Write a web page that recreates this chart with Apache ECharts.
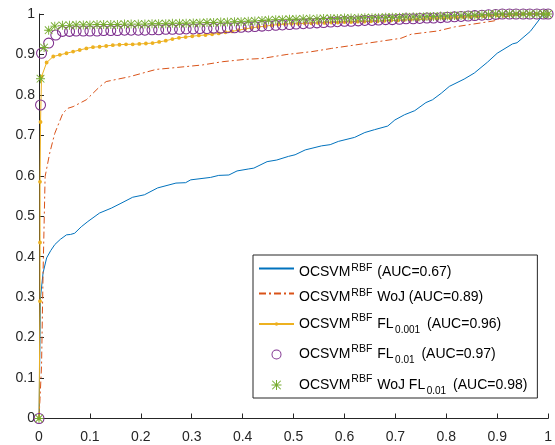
<!DOCTYPE html>
<html><head><meta charset="utf-8">
<script src="https://cdn.jsdelivr.net/npm/echarts@6/dist/echarts.min.js"></script>
<style>html,body{margin:0;padding:0;background:#fff}#c{width:555px;height:445px}</style>
</head><body><div id="c"></div>
<script>
// ---- data ----
const xTicks = [0, 0.1, 0.2, 0.3, 0.4, 0.5, 0.6, 0.7, 0.8, 0.9, 1];
const yTicks = [0, 0.1, 0.2, 0.3, 0.4, 0.5, 0.6, 0.7, 0.8, 0.9, 1];
const seriesNames = ['s1', 's2', 's3', 's4', 's5'];
const legendLabels = [
  '{a|OCSVM}{sa|RBF}{a| (AUC=0.67)}',
  '{a|OCSVM}{sa|RBF}{a| WoJ (AUC=0.89)}',
  '{b|OCSVM}{sb|RBF}{b| FL}{sub|0.001}{b| (AUC=0.96)}',
  '{b|OCSVM}{sb|RBF}{b| FL}{sub|0.01}{b| (AUC=0.97)}',
  '{b|OCSVM}{sb|RBF}{b| WoJ FL}{sub|0.01}{b| (AUC=0.98)}'
];
const blueX = [0,0.001,0.002,0.003,0.008,0.015,0.023,0.031,0.042,0.054,0.062,0.070,0.083,0.096,0.119,0.142,0.161,0.184,0.207,0.233,0.269,0.288,0.298,0.337,0.353,0.373,0.389,0.412,0.422,0.448,0.467,0.490,0.503,0.523,0.555,0.572,0.588,0.620,0.640,0.659,0.685,0.699,0.718,0.738,0.760,0.773,0.790,0.806,0.835,0.855,0.881,0.900,0.930,0.939,0.965,0.988,1];
const blueY = [0,0.1,0.2,0.3,0.36,0.397,0.415,0.43,0.443,0.454,0.455,0.458,0.474,0.487,0.508,0.52,0.532,0.547,0.553,0.57,0.582,0.583,0.59,0.596,0.601,0.602,0.612,0.617,0.619,0.635,0.639,0.648,0.652,0.664,0.674,0.677,0.685,0.695,0.707,0.714,0.723,0.738,0.751,0.761,0.781,0.788,0.804,0.821,0.839,0.854,0.881,0.903,0.926,0.929,0.957,0.995,1];
const orangeX = [0,0.002,0.005,0.008,0.012,0.021,0.031,0.047,0.057,0.067,0.093,0.119,0.132,0.178,0.230,0.256,0.321,0.360,0.406,0.438,0.487,0.536,0.575,0.646,0.711,0.731,0.783,0.816,0.894,0.913,0.956,1];
const orangeY = [0,0.05,0.13,0.36,0.598,0.656,0.705,0.755,0.767,0.771,0.788,0.82,0.833,0.845,0.863,0.866,0.874,0.882,0.888,0.89,0.9,0.907,0.915,0.928,0.94,0.95,0.958,0.968,0.983,0.993,1,1];
const yellowX = [0,0.002,0.002,0.002,0.003,0.005,0.015,0.028,0.041,0.054,0.067,0.080,0.093,0.106,0.119,0.132,0.145,0.158,0.171,0.184,0.197,0.210,0.223,0.236,0.249,0.262,0.275,0.288,0.301,0.314,0.327,0.340,0.353,0.366,0.379,0.392,0.405,0.418,0.431,0.444,0.457,0.470,0.483,0.496,0.509,0.522,0.535,0.548,0.561,0.574,0.587,0.600,0.613,0.626,0.639,0.652,0.665,0.678,0.691,0.704,0.717,0.730,0.743,0.756,0.769,0.782,0.795,0.808,0.821,0.834,0.847,0.860,0.873,0.886,0.899,0.912,0.925,0.938,0.951,0.964,0.977,0.990,1];
const yellowY = [0,0.29,0.435,0.585,0.733,0.845,0.880,0.895,0.899,0.903,0.907,0.911,0.915,0.918,0.919,0.921,0.923,0.924,0.925,0.925,0.926,0.927,0.928,0.931,0.934,0.938,0.941,0.943,0.945,0.947,0.948,0.950,0.952,0.955,0.957,0.960,0.963,0.966,0.968,0.970,0.972,0.974,0.975,0.976,0.976,0.977,0.977,0.978,0.978,0.979,0.979,0.980,0.980,0.981,0.981,0.982,0.982,0.983,0.984,0.984,0.985,0.986,0.986,0.987,0.988,0.988,0.989,0.990,0.991,0.992,0.993,0.994,0.995,0.996,0.997,0.998,0.999,1,1,1,1,1,1];
const purpleX = [0,0.003,0.005,0.019,0.033,0.046,0.060,0.073,0.087,0.100,0.114,0.127,0.141,0.154,0.168,0.181,0.195,0.208,0.222,0.235,0.249,0.262,0.276,0.289,0.303,0.316,0.330,0.343,0.357,0.370,0.384,0.397,0.411,0.424,0.438,0.451,0.465,0.478,0.492,0.505,0.519,0.532,0.546,0.559,0.573,0.586,0.600,0.613,0.627,0.640,0.654,0.667,0.681,0.694,0.708,0.721,0.735,0.748,0.762,0.775,0.789,0.802,0.816,0.829,0.843,0.856,0.870,0.883,0.897,0.910,0.924,0.937,0.951,0.964,0.978,0.991,1];
const purpleY = [0,0.775,0.903,0.928,0.948,0.957,0.957,0.958,0.958,0.958,0.958,0.959,0.959,0.959,0.960,0.960,0.960,0.960,0.961,0.961,0.962,0.962,0.962,0.963,0.963,0.964,0.964,0.965,0.965,0.966,0.966,0.967,0.968,0.969,0.970,0.971,0.972,0.973,0.974,0.975,0.976,0.977,0.978,0.979,0.980,0.981,0.982,0.982,0.983,0.984,0.984,0.985,0.986,0.986,0.987,0.988,0.988,0.989,0.990,0.990,0.991,0.992,0.993,0.994,0.995,0.996,0.997,0.998,0.999,1,1,1,1,1,1,1,1];
const greenX = [0,0.003,0.010,0.019,0.031,0.046,0.060,0.073,0.087,0.100,0.114,0.127,0.141,0.154,0.168,0.181,0.195,0.208,0.222,0.235,0.249,0.262,0.276,0.289,0.303,0.316,0.330,0.343,0.357,0.370,0.384,0.397,0.411,0.424,0.438,0.451,0.465,0.478,0.492,0.505,0.519,0.532,0.546,0.559,0.573,0.586,0.600,0.613,0.627,0.640,0.654,0.667,0.681,0.694,0.708,0.721,0.735,0.748,0.762,0.775,0.789,0.802,0.816,0.829,0.843,0.856,0.870,0.883,0.897,0.910,0.924,0.937,0.951,0.964,0.978,0.991,1];
const greenY = [0,0.84,0.917,0.96,0.97,0.972,0.972,0.973,0.973,0.973,0.974,0.974,0.974,0.974,0.975,0.975,0.975,0.975,0.976,0.976,0.976,0.977,0.977,0.977,0.978,0.978,0.979,0.979,0.980,0.980,0.981,0.981,0.982,0.983,0.984,0.985,0.986,0.986,0.987,0.987,0.988,0.988,0.988,0.989,0.989,0.989,0.990,0.990,0.990,0.991,0.991,0.991,0.992,0.992,0.992,0.993,0.993,0.993,0.994,0.994,0.995,0.995,0.996,0.996,0.997,0.997,0.998,0.999,1,1,1,1,1,1,1,1,1];

// ---- styling ----
const FONT = 'Liberation Sans, Arial, Helvetica, sans-serif';
const AX = '#262626';
const colors = ['#0072BD', '#D95319', '#EDB120', '#7E2F8E', '#77AC30'];
const dotPath = 'path://M0 0L0.01 0L0 0.01Z M20 20L19.99 20L20 19.99Z M6.5 10A3.5 3.5 0 1 1 13.5 10A3.5 3.5 0 1 1 6.5 10Z';
const ringPath = 'path://M0 10A10 10 0 1 1 20 10A10 10 0 1 1 0 10Z M1.9 10A8.1 8.1 0 1 0 18.1 10A8.1 8.1 0 1 0 1.9 10Z';
const starPath = 'path://M9 0H11V20H9Z M0 9H20V11H0Z M2.2 0.8L19.2 17.8L17.8 19.2L0.8 2.2Z M17.8 0.8L19.2 2.2L2.2 19.2L0.8 17.8Z';

function zip(xs, ys) { const n = Math.min(xs.length, ys.length); const r = []; for (let i = 0; i < n; i++) r.push([xs[i], ys[i]]); return r; }

const chart = echarts.init(document.getElementById('c'), null, { renderer: 'canvas' });
const tickText = v => { const t = [...xTicks, ...yTicks].find(k => Math.abs(k - v) < 1e-9); return t === undefined ? '' : String(t); };
const axisCommon = {
  type: 'value', min: 0, max: 1, interval: 0.1,
  axisLine: { show: true, lineStyle: { color: AX, width: 1 } },
  axisTick: { show: true, inside: true, length: 5, lineStyle: { color: AX } },
  splitLine: { show: false }
};
const T = { color: AX, fontSize: 14, fontFamily: FONT, formatter: tickText };
chart.setOption({
  animation: false,
  backgroundColor: '#fff',
  textStyle: { fontFamily: FONT },
  grid: { left: 39, right: 4, top: 14, bottom: 26.5, containLabel: false },
  xAxis: Object.assign({}, axisCommon, { axisLabel: Object.assign({}, T, { margin: 12 }) }),
  yAxis: Object.assign({}, axisCommon, { axisLabel: Object.assign({}, T, { margin: 4 }) }),
  legend: {
    orient: 'vertical', left: 253, top: 255,
    itemWidth: 35, itemHeight: 12.5, itemGap: 8.5,
    padding: [8, 10, 2, 5],
    backgroundColor: '#fff', borderColor: AX, borderWidth: 1,
    data: [
      { name: 's1', itemStyle: { opacity: 0 } },
      { name: 's2', itemStyle: { opacity: 0 } },
      { name: 's3' },
      { name: 's4', lineStyle: { opacity: 0 } },
      { name: 's5', lineStyle: { opacity: 0 } }
    ],
    formatter: name => legendLabels[seriesNames.indexOf(name)],
    textStyle: {
      color: '#000', fontFamily: FONT,
      rich: {
        a: { fontSize: 14, lineHeight: 14, verticalAlign: 'bottom', fontFamily: FONT, color: '#000' },
        sa: { fontSize: 10.5, lineHeight: 22, verticalAlign: 'middle', fontFamily: FONT, color: '#000', padding: [0, 1, 0, 1] },
        b: { fontSize: 14, lineHeight: 22, fontFamily: FONT, color: '#000' },
        sb: { fontSize: 10.5, lineHeight: 13, verticalAlign: 'top', fontFamily: FONT, color: '#000', padding: [0, 1, 0, 1] },
        sub: { fontSize: 10, lineHeight: 7, verticalAlign: 'bottom', fontFamily: FONT, color: '#000', padding: [0, 3, 0, 1.5] }
      }
    }
  },
  series: [
    { name: 's1', type: 'line', data: zip(blueX, blueY), symbol: 'none', color: colors[0], lineStyle: { width: 1, color: colors[0] }, z: 2 },
    { name: 's2', type: 'line', data: zip(orangeX, orangeY), symbol: 'none', color: colors[1], lineStyle: { width: 1, color: colors[1], type: [7, 3, 2, 3] }, z: 3 },
    { name: 's3', type: 'line', data: zip(yellowX, yellowY), symbol: dotPath, symbolSize: 11, showSymbol: true, color: colors[2], itemStyle: { color: colors[2] }, lineStyle: { width: 1, color: colors[2] }, z: 4, clip: false },
    { name: 's4', type: 'line', data: zip(purpleX, purpleY), symbol: ringPath, symbolSize: 11, showSymbol: true, color: colors[3], itemStyle: { color: colors[3] }, lineStyle: { opacity: 0 }, z: 5, clip: false },
    { name: 's5', type: 'line', data: zip(greenX, greenY), symbol: starPath, symbolSize: 9, showSymbol: true, color: colors[4], itemStyle: { color: colors[4] }, lineStyle: { opacity: 0 }, z: 6, clip: false }
  ]
});
</script></body></html>
